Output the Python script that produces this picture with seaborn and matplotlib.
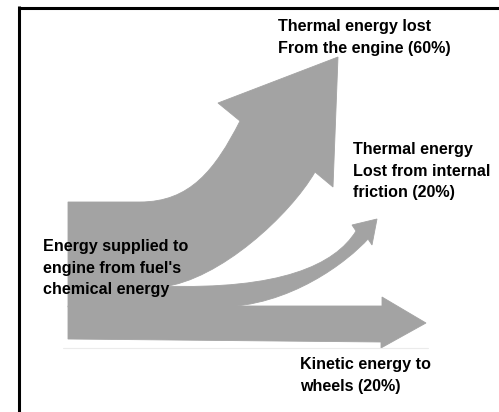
import numpy as np
import matplotlib
matplotlib.use("Agg")
import matplotlib.pyplot as plt
from matplotlib.path import Path
from matplotlib.patches import PathPatch
import seaborn as sns

# energy flows of a car engine (share of fuel energy, %)
flow_names = ["Thermal energy lost\nFrom the engine",
              "Thermal energy\nLost from internal\nfriction",
              "Kinetic energy to\nwheels"]
flow_shares = [60, 20, 20]
source_label = "Energy supplied to\nengine from fuel's\nchemical energy"

W, H = 499, 412
BAND_COLOR = "#a3a3a3"

sns.set_theme(style="white")
plt.rcParams["font.family"] = ["Liberation Sans", "DejaVu Sans"]

fig = plt.figure(figsize=(W / 100, H / 100), dpi=100)
ax = fig.add_axes([0, 0, 1, 1])
ax.set_xlim(0, W)
ax.set_ylim(H, 0)
ax.axis("off")

M, L, C, Z = Path.MOVETO, Path.LINETO, Path.CURVE4, Path.CLOSEPOLY

# shapes of the three arrows (pixel-like units, y down)
shapes = [
    # big upward arrow
    ([(68, 202), (140, 202), (190, 202), (215, 170), (240, 121),
      (218, 103), (338, 57), (333, 187), (315, 172),
      (290, 215), (220, 280), (162, 287), (68, 287), (0, 0)],
     [M, L, C, C, C, L, L, L, L, C, C, C, L, Z]),
    # small curved arrow
    ([(68, 286), (162, 286), (280, 290), (335, 265), (356, 231),
      (352, 225), (377, 219), (372, 245), (368, 239),
      (348, 261), (290, 307), (218, 307), (68, 307), (0, 0)],
     [M, L, C, C, C, L, L, L, L, C, C, C, L, Z]),
    # straight arrow
    ([(68, 306), (382, 306), (382, 297), (426, 323), (381, 348),
      (381, 342), (68, 339), (0, 0)],
     [M, L, L, L, L, L, L, Z]),
]
for verts, codes in shapes:
    ax.add_patch(PathPatch(Path(verts, codes), fc=BAND_COLOR,
                           ec=BAND_COLOR, lw=0.6))

# faint scan line under the arrows
ax.plot([63, 428], [347.5, 347.5], color="#ebebeb", lw=0.8)

# frame lines (top and left)
ax.plot([19.5, W], [7.5, 7.5], color="black", lw=2.2, solid_capstyle="butt")
ax.plot([19.5, 19.5], [6.4, H], color="black", lw=2.2, solid_capstyle="butt")

txt = dict(fontsize=11.6, fontweight="bold", color="black",
           ha="left", va="top", linespacing=1.55)
label_pos = [(278, 19), (353, 142), (300, 357)]
for (x, y), name, share in zip(label_pos, flow_names, flow_shares):
    ax.text(x, y, f"{name} ({share}%)", **txt)
ax.text(43, 239, source_label, **txt)

fig.savefig("out.png", dpi=100)
